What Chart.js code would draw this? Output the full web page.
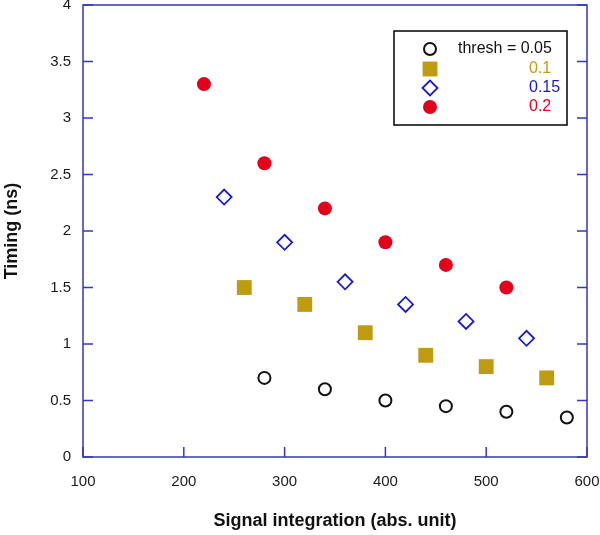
<!DOCTYPE html>
<html>
<head>
<meta charset="utf-8">
<script src="https://cdn.jsdelivr.net/npm/chart.js@4/dist/chart.umd.min.js"></script>
<style>
  html, body { margin: 0; padding: 0; background: #fff; }
  #wrap { width: 600px; height: 535px; }
</style>
</head>
<body>
<div id="wrap"><canvas id="chart"></canvas></div>
<script>
// series labels (legend)
const seriesLabels = ['thresh = 0.05', '0.1', '0.15', '0.2'];

// x positions (signal integration)
const x005 = [280, 340, 400, 460, 520, 580];
const x010 = [260, 320, 380, 440, 500, 560];
const x015 = [240, 300, 360, 420, 480, 540];
const x020 = [220, 280, 340, 400, 460, 520];

// timing values (ns)
const y005 = [0.7, 0.6, 0.5, 0.45, 0.4, 0.35];
const y010 = [1.5, 1.35, 1.1, 0.9, 0.8, 0.7];
const y015 = [2.3, 1.9, 1.55, 1.35, 1.2, 1.05];
const y020 = [3.3, 2.6, 2.2, 1.9, 1.7, 1.5];

// axis ticks
const xTicks = [100, 200, 300, 400, 500, 600];
const yTicks = [0, 0.5, 1, 1.5, 2, 2.5, 3, 3.5, 4];

const frameColor = '#3535c8';
const fontFamily = '"Liberation Sans", Arial, sans-serif';

function toPoints(xs, ys) {
    return xs.map((x, i) => ({ x: x, y: ys[i] }));
}

// draws the blue frame, inward ticks and the boxed legend
const framePlugin = {
    id: 'frame',
    afterDraw(chart) {
        const ctx = chart.ctx;
        const a = chart.chartArea;
        const xs = chart.scales.x;
        const ys = chart.scales.y;
        ctx.save();
        ctx.strokeStyle = frameColor;
        ctx.lineWidth = 1.5;
        ctx.strokeRect(a.left, a.top, a.right - a.left, a.bottom - a.top);
        ctx.beginPath();
        xTicks.forEach(v => {
            const px = xs.getPixelForValue(v);
            ctx.moveTo(px, a.bottom);
            ctx.lineTo(px, a.bottom - 10);
        });
        yTicks.forEach(v => {
            const py = ys.getPixelForValue(v);
            ctx.moveTo(a.left, py);
            ctx.lineTo(a.left + 10, py);
            ctx.moveTo(a.right, py);
            ctx.lineTo(a.right - 10, py);
        });
        ctx.stroke();

        // legend box
        ctx.strokeStyle = '#000';
        ctx.lineWidth = 1.5;
        ctx.strokeRect(394, 31, 173, 94);
        ctx.font = '16px ' + fontFamily;
        ctx.textBaseline = 'middle';
        const rowY = [49, 69, 88, 107];
        chart.data.datasets.forEach((ds, i) => {
            const y = rowY[i];
            ctx.lineWidth = ds.borderWidth;
            ctx.strokeStyle = ds.borderColor;
            ctx.fillStyle = ds.backgroundColor;
            Chart.helpers.drawPoint(ctx, {
                pointStyle: ds.pointStyle,
                radius: ds.pointRadius,
                borderWidth: ds.borderWidth,
                rotation: 0
            }, 430, y);
            ctx.fillStyle = ds.labelColor;
            ctx.textAlign = 'left';
            ctx.fillText(ds.label, i === 0 ? 458 : 529, y);
        });
        ctx.restore();
    }
};

new Chart(document.getElementById('chart'), {
    type: 'scatter',
    data: {
        datasets: [
            {
                label: seriesLabels[0],
                data: toPoints(x005, y005),
                pointStyle: 'circle',
                pointRadius: 6,
                borderWidth: 2,
                borderColor: '#111',
                backgroundColor: 'rgba(0,0,0,0)',
                labelColor: '#111'
            },
            {
                label: seriesLabels[1],
                data: toPoints(x010, y010),
                pointStyle: 'rect',
                pointRadius: 10.5,
                borderWidth: 0,
                borderColor: '#bf9b12',
                backgroundColor: '#bf9b12',
                labelColor: '#bf9b12'
            },
            {
                label: seriesLabels[2],
                data: toPoints(x015, y015),
                pointStyle: 'rectRot',
                pointRadius: 7.5,
                borderWidth: 1.8,
                borderColor: '#1a1acc',
                backgroundColor: 'rgba(0,0,0,0)',
                labelColor: '#1a1acc'
            },
            {
                label: seriesLabels[3],
                data: toPoints(x020, y020),
                pointStyle: 'circle',
                pointRadius: 7,
                borderWidth: 0,
                borderColor: '#e2001a',
                backgroundColor: '#e2001a',
                labelColor: '#e2001a'
            }
        ]
    },
    options: {
        responsive: true,
        maintainAspectRatio: false,
        animation: false,
        layout: { autoPadding: false, padding: { top: 5, right: 13, left: 0, bottom: 0 } },
        plugins: {
            legend: { display: false },
            tooltip: { enabled: false }
        },
        scales: {
            x: {
                type: 'linear',
                min: 100,
                max: 600,
                afterBuildTicks: s => { s.ticks = xTicks.map(v => ({ value: v })); },
                afterFit: s => { s.height = 78; s.paddingRight = 0; s.paddingLeft = 0; },
                grid: { display: false, drawTicks: false },
                border: { display: false },
                ticks: {
                    color: '#1a1a1a',
                    padding: 16,
                    maxRotation: 0,
                    callback: v => String(v),
                    font: { family: fontFamily, size: 15 }
                },
                title: {
                    display: true,
                    text: 'Signal integration (abs. unit)',
                    color: '#111',
                    padding: { top: 0, bottom: 3 },
                    font: { family: fontFamily, size: 18, weight: 'bold' }
                }
            },
            y: {
                type: 'linear',
                min: 0,
                max: 4,
                afterBuildTicks: s => { s.ticks = yTicks.map(v => ({ value: v })); },
                afterFit: s => { s.width = 83; s.paddingTop = 0; s.paddingBottom = 0; },
                grid: { display: false, drawTicks: false },
                border: { display: false },
                ticks: {
                    color: '#1a1a1a',
                    padding: 12,
                    callback: v => String(v),
                    font: { family: fontFamily, size: 15 }
                },
                title: {
                    display: true,
                    text: 'Timing (ns)',
                    color: '#111',
                    padding: { top: 1, bottom: 0 },
                    font: { family: fontFamily, size: 18, weight: 'bold' }
                }
            }
        }
    },
    plugins: [framePlugin]
});
</script>
</body>
</html>
